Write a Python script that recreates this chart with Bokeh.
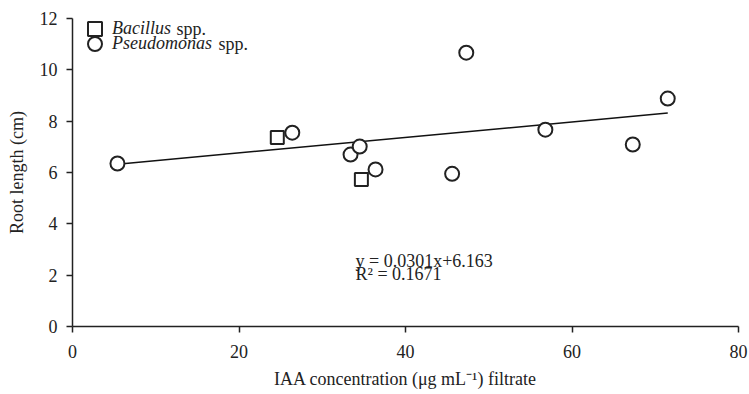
from bokeh.plotting import figure
from bokeh.models import Range1d, FixedTicker, Legend, LegendItem, Label
from bokeh.embed import file_html
from bokeh.resources import INLINE

# Data
bacillus_x = [24.6, 34.7]
bacillus_y = [7.36, 5.73]
pseudo_x = [5.4, 26.4, 33.4, 34.5, 36.4, 45.6, 47.3, 56.8, 67.3, 71.5]
pseudo_y = [6.35, 7.55, 6.70, 7.01, 6.12, 5.95, 10.67, 7.67, 7.09, 8.88]
slope = 0.0301
intercept = 6.163
r2 = 0.1671
x_ticks = [0, 20, 40, 60, 80]
y_ticks = [0, 2, 4, 6, 8, 10, 12]

FONT = "Liberation Serif"
FS = "18px"
INK = "#222222"

p = figure(width=749, height=394, output_backend="svg", toolbar_location=None,
           x_range=Range1d(0, 80), y_range=Range1d(0, 12),
           min_border_left=72, min_border_right=11, min_border_top=18, min_border_bottom=68)
p.outline_line_color = None
p.xgrid.visible = False
p.ygrid.visible = False

for ax in (p.xaxis[0], p.yaxis[0]):
    ax.major_tick_in = 0
    ax.major_tick_out = 6
    ax.minor_tick_line_color = None
    ax.axis_line_color = INK
    ax.major_tick_line_color = INK
    ax.axis_line_width = 1.5
    ax.major_tick_line_width = 1.5
    ax.major_label_text_font = FONT
    ax.major_label_text_font_size = FS
    ax.major_label_text_color = INK
    ax.axis_label_text_font = FONT
    ax.axis_label_text_font_size = FS
    ax.axis_label_text_font_style = "normal"
    ax.axis_label_text_color = INK

p.xaxis.ticker = FixedTicker(ticks=x_ticks)
p.yaxis.ticker = FixedTicker(ticks=y_ticks)
p.xaxis.axis_label = "IAA concentration (\u03bcg mL\u207b\u00b9) filtrate"
p.yaxis.axis_label = "Root length (cm)"
p.xaxis.major_label_standoff = 12
p.xaxis.axis_label_standoff = 8
p.yaxis.major_label_standoff = 9
p.yaxis.axis_label_standoff = 10

# regression line from the printed equation
lx = [min(pseudo_x + bacillus_x), max(pseudo_x + bacillus_x)]
ly = [slope * v + intercept for v in lx]
p.line(lx, ly, line_color="#111111", line_width=1.5)

rb = p.scatter(bacillus_x, bacillus_y, marker="square", size=13, fill_color="white",
               line_color=INK, line_width=2)
rp = p.scatter(pseudo_x, pseudo_y, marker="circle", size=14, fill_color="white",
               line_color=INK, line_width=2)

legend_style = dict(padding=0, margin=0, spacing=0,
                    glyph_width=35, glyph_height=35, label_height=35, label_standoff=0,
                    label_text_font=FONT, label_text_font_size=FS,
                    label_text_font_style="italic", label_text_color=INK,
                    border_line_color=None, background_fill_alpha=0)
p.add_layout(Legend(items=[LegendItem(label="Bacillus", renderers=[rb])],
                    location=(5, 280), **legend_style))
p.add_layout(Legend(items=[LegendItem(label="Pseudomonas", renderers=[rp])],
                    location=(5, 265), **legend_style))

p.add_layout(Label(x=104, y=298, x_units="screen", y_units="screen", text="spp.",
                   text_font=FONT, text_font_size=FS, text_color=INK,
                   text_baseline="middle"))
p.add_layout(Label(x=146, y=283, x_units="screen", y_units="screen", text="spp.",
                   text_font=FONT, text_font_size=FS, text_color=INK,
                   text_baseline="middle"))

p.add_layout(Label(x=34.0, y=2.56, text=f"y = {slope}x+{intercept}", text_font=FONT,
                   text_font_size=FS, text_color=INK, text_baseline="middle"))
p.add_layout(Label(x=34.0, y=2.03, text=f"R\u00b2 = {r2}", text_font=FONT,
                   text_font_size=FS, text_color=INK, text_baseline="middle"))

open("out.html", "w").write(file_html(p, INLINE))
